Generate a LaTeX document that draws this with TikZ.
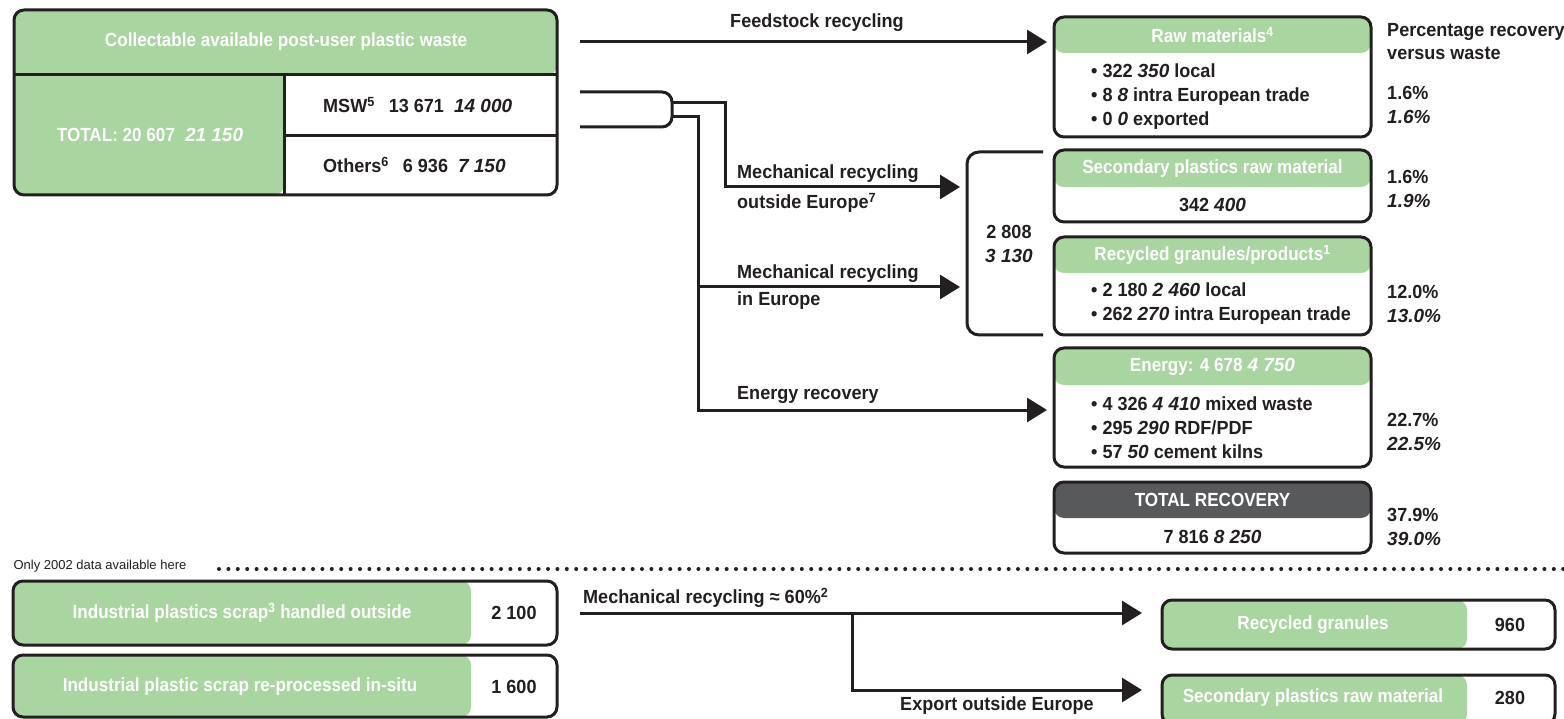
\documentclass[tikz,border=0pt]{standalone}
\usepackage{fontspec}
\setmainfont{Liberation Sans}[BoldFeatures={FakeStretch=0.95}]
\newfontfamily\condfont{Liberation Sans}[BoldFeatures={FakeStretch=0.9}]
\usetikzlibrary{arrows.meta,positioning,calc}
\definecolor{leaf}{HTML}{A8D5A0}
\definecolor{slate}{HTML}{58595B}
\definecolor{ink}{HTML}{231F20}
\tikzset{
  flowbox/.style={
    rectangle, rounded corners=10pt, draw=ink, line width=3pt,
    fill=white, inner sep=0pt, outer sep=0pt
  },
  recbox/.style={flowbox, minimum width=317pt},
  headfill/.style 2 args={
    path picture={\fill[#2] ([yshift=3pt]path picture bounding box.north west)
      rectangle ([yshift=-#1]path picture bounding box.north east);}
  },
  headfill/.default={36pt}{leaf},
  sidefill/.style={
    path picture={\fill[leaf] ([xshift=-3pt]path picture bounding box.south west)
      rectangle ([xshift=#1]path picture bounding box.north west);}
  },
  headtext/.style={text=white, inner sep=0pt, font=\fontsize{19}{23}\selectfont\condfont\bfseries},
  bodytext/.style={text=ink, inner sep=0pt, font=\fontsize{19}{24}\selectfont\bfseries},
  listtext/.style={bodytext, align=left, anchor=west},
  divider/.style={draw=ink, line width=3pt},
  flow/.style={
    draw=ink, line width=3pt, -{Triangle[length=20pt,width=24pt]},
    shorten >=7pt
  },
  dotline/.style={draw=ink, line width=4pt, line cap=round,
    dash pattern=on 0pt off 9.4pt},
}

\begin{document}
\begin{tikzpicture}[x=1pt, y=-1pt]
\useasboundingbox (0,0) rectangle (1564,719);
% post-user waste
\node[flowbox, minimum width=543pt, minimum height=185pt,
  path picture={
    \fill[leaf] ([yshift=3pt]path picture bounding box.north west)
      rectangle ([yshift=-65pt]path picture bounding box.north east);
    \fill[leaf] ([xshift=-3pt]path picture bounding box.south west)
      rectangle ([xshift=270pt]path picture bounding box.north west);
  }] (waste) at (285.5,102.5) {};
\draw[divider] ([yshift=-65pt]waste.north west) -- ([yshift=-65pt]waste.north east);
\draw[divider] ([xshift=270pt]waste.south west) -- ([xshift=270pt,yshift=-65pt]waste.north west);
\draw[divider] ([yshift=59pt]waste.south east) -- ([xshift=270pt,yshift=59pt]waste.south west);
\node[headtext] (wastehead) at (286,42) {Collectable available post-user plastic waste};
\node[headtext] (wastetotal) at (150,135) {TOTAL: 20 607\hspace{10pt}\textit{21 150}};
\node[bodytext, anchor=west] (msw) at (323,105) {MSW\textsuperscript{5}\hspace{14pt}13 671\hspace{10pt}\textit{14 000}};
\node[bodytext, anchor=west] (others) at (323,165) {Others\textsuperscript{6}\hspace{14pt}6 936\hspace{10pt}\textit{7 150}};

% recovery boxes
\node[recbox, minimum height=120pt, headfill] (rawmat) at (1212.5,77) {};
\node[headtext] (rawmathead) at ([yshift=-18pt]rawmat.north) {Raw materials\textsuperscript{4}};
\node[listtext] (rawmatlist) at (1091,97) {\textbullet\ 322 \textit{350} local\\
  \textbullet\ 8 \textit{8} intra European trade\\ \textbullet\ 0 \textit{0} exported};
\node[recbox, minimum height=72pt, headfill={37pt}{leaf}] (secmat) at (1212.5,186) {};
\node[headtext] (secmathead) at ([yshift=-18.5pt]secmat.north) {Secondary plastics raw material};
\node[bodytext] (secmatval) at (1212.5,205) {342 \textit{400}};
\node[recbox, minimum height=98pt, headfill] (recgran) at (1212.5,286) {};
\node[headtext] (recgranhead) at ([yshift=-18pt]recgran.north) {Recycled granules/products\textsuperscript{1}};
\node[listtext] (recgranlist) at (1091,304) {\textbullet\ 2 180 \textit{2 460} local\\
  \textbullet\ 262 \textit{270} intra European trade};
\node[recbox, minimum height=119pt, headfill={37pt}{leaf}] (energy) at (1212.5,407.5) {};
\node[headtext] (energyhead) at ([yshift=-18.5pt]energy.north) {Energy: 4 678 \textit{4 750}};
\node[listtext] (energylist) at (1091,428) {\textbullet\ 4 326 \textit{4 410} mixed waste\\
  \textbullet\ 295 \textit{290} RDF/PDF\\ \textbullet\ 57 \textit{50} cement kilns};
\node[recbox, minimum height=71pt, headfill={36pt}{slate}] (totrec) at (1212.5,517.5) {};
\node[headtext] (totrechead) at ([yshift=-18pt]totrec.north) {TOTAL RECOVERY};
\node[bodytext] (totrecval) at (1212.5,537) {7 816 \textit{8 250}};

% percentages
\node[listtext, align=left, font=\fontsize{19}{23}\selectfont\bfseries] (pcthead) at (1387,41.5) {Percentage recovery\\versus waste};
\node[listtext] (pctraw) at (1387,105) {1.6\%\\\textit{1.6\%}};
\node[listtext] (pctsec) at (1387,189) {1.6\%\\\textit{1.9\%}};
\node[listtext] (pctgran) at (1387,304) {12.0\%\\\textit{13.0\%}};
\node[listtext] (pctenergy) at (1387,432) {22.7\%\\\textit{22.5\%}};
\node[listtext] (pcttotal) at (1387,527) {37.9\%\\\textit{39.0\%}};

% mechanical recycling bracket
\node[minimum width=76pt, minimum height=183pt, inner sep=0pt, outer sep=0pt,
  bodytext, align=center] (mechsum) at (1005,243.5) {\hspace{8pt}2 808\\\hspace{8pt}\textit{3 130}};
\draw[divider, rounded corners=12pt] (mechsum.north east) -- (mechsum.north west)
  -- (mechsum.south west) -- (mechsum.south east);

% connectors
\coordinate (feedstart) at (580,42);
\coordinate (mswend) at (580,92);
\coordinate (othend) at (580,127);
\coordinate (plugtop) at (672,103);
\coordinate (plugbot) at (672,117);
\coordinate (mechsplit) at (698,287);
\draw[flow] (feedstart) -- (feedstart -| rawmat.west)
  node[midway, above=9pt, bodytext] (feedlabel) {Feedstock recycling};
\draw[divider, rounded corners=10pt] (mswend) -- (672,92) -- (672,127) -- (othend);
\draw[flow] (plugtop) -- (725,103) |- (mechsum.west |- 0,187);
\draw[flow] (plugbot) -- (698,117) |- (energy.west |- 0,410);
\draw[flow] (mechsplit) -- (mechsplit -| mechsum.west);
\node[bodytext, anchor=south west] (mechoutlbl) at (737,183) {Mechanical recycling};
\node[bodytext, anchor=north west] (mechoutlbl2) at (737,193) {outside Europe\textsuperscript{7}};
\node[bodytext, anchor=south west] (mechinlbl) at (737,283) {Mechanical recycling};
\node[bodytext, anchor=north west] (mechinlbl2) at (737,292) {in Europe};
\node[bodytext, anchor=south west] (energylbl) at (737,404) {Energy recovery};

% 2002 only
\node[inner sep=0pt, text=ink, font=\fontsize{13}{15}\selectfont] (onlylbl) at (100,566) {Only 2002 data available here};
\coordinate (dotstart) at (219,569);
\coordinate (dotend) at (1564,569);
\draw[dotline] (dotstart) -- (dotend);

\node[flowbox, minimum width=544pt, minimum height=64pt, sidefill=458pt] (indout) at (285,613) {};
\node[headtext] (indoutname) at (242,613) {Industrial plastics scrap\textsuperscript{3} handled outside};
\node[bodytext] (indoutval) at (514,613) {2 100};
\node[flowbox, minimum width=544pt, minimum height=62pt, sidefill=458pt] (insitu) at (285,686) {};
\node[headtext] (insituname) at (240,687) {Industrial plastic scrap re-processed in-situ};
\node[bodytext] (insituval) at (514,687) {1 600};

\node[flowbox, minimum width=393pt, minimum height=49pt, sidefill=305pt] (indgran) at (1358.5,624.5) {};
\node[headtext] (indgranname) at (1313,625) {Recycled granules};
\node[bodytext] (indgranval) at (1510,625) {960};
\node[flowbox, minimum width=393pt, minimum height=49pt, sidefill=305pt] (indsec) at (1358.5,699.5) {};
\node[headtext] (indsecname) at (1313,698) {Secondary plastics raw material};
\node[bodytext] (indsecval) at (1510,698) {280};

\coordinate (indstart) at (580,613);
\coordinate (exportsplit) at (852,613);
\draw[flow, shorten >=20pt] (indstart) -- (indstart -| indgran.west);
\draw[flow, shorten >=20pt] (exportsplit) |- (indsec.west |- 0,690);
\node[bodytext, anchor=south west] (mechlbl) at (583,608) {Mechanical recycling ≈ 60\%\textsuperscript{2}};
\node[bodytext] (exportlbl) at (997,706) {Export outside Europe};
\end{tikzpicture}
\end{document}
